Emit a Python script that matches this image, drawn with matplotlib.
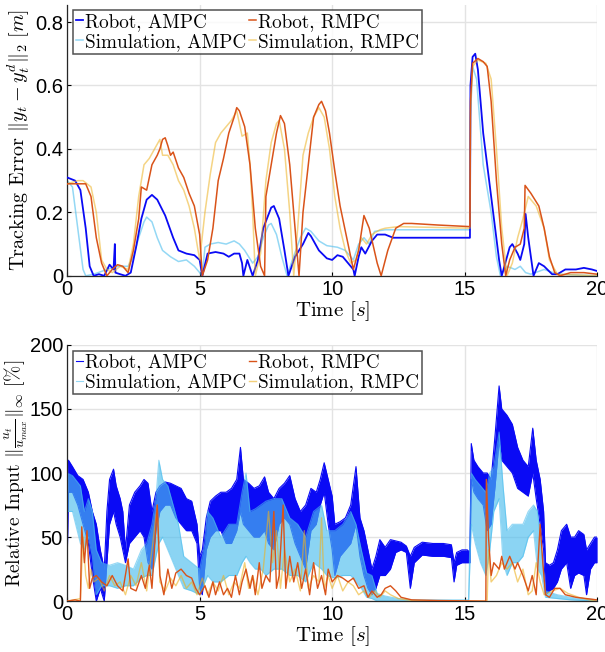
import numpy as np
import matplotlib
matplotlib.use("Agg")
from matplotlib import pyplot as plt

plt.rcParams["mathtext.fontset"] = "cm"
plt.rcParams["axes.unicode_minus"] = False

# ---- top panel: tracking error [m] ----
t_ra = [0, 0.3, 0.5, 0.7, 0.85, 1.0, 1.2, 1.4, 1.6, 1.75, 1.8, 1.82, 2.0, 2.2, 2.4, 2.6, 2.8, 3.0, 3.2,
        3.4, 3.7, 4.0, 4.2, 4.5, 4.8, 5.0, 5.1, 5.3, 5.6, 5.9, 6.1, 6.3, 6.5, 6.6, 6.65, 6.8, 7.0, 7.2,
        7.4, 7.7, 7.8, 8.0, 8.2, 8.35, 8.6, 8.9, 9.1, 9.2, 9.5, 9.8, 10.0, 10.2, 10.4, 10.6, 10.8, 10.85,
        11.0, 11.1, 11.25, 11.5, 11.7, 12.0, 12.3, 13.0, 15.2, 15.22, 15.3, 15.4, 15.5, 15.7, 16.0, 16.3,
        16.4, 16.7, 16.8, 17.0, 17.1, 17.25, 17.3, 17.4, 17.6, 17.8, 18.0, 18.3, 18.5, 18.8, 19.2, 19.5,
        19.8, 20]
e_ra = [0.31, 0.30, 0.27, 0.15, 0.03, 0.0, 0.005, 0.0, 0.035, 0.02, 0.1, 0.01, 0.005, 0.0, 0.01, 0.09,
        0.18, 0.24, 0.255, 0.24, 0.19, 0.12, 0.08, 0.07, 0.065, 0.05, 0.0, 0.07, 0.075, 0.07, 0.06, 0.07,
        0.07, 0.04, 0.0, 0.05, 0.0, 0.05, 0.15, 0.215, 0.22, 0.18, 0.08, 0.0, 0.06, 0.1, 0.135, 0.125,
        0.08, 0.055, 0.05, 0.065, 0.06, 0.04, 0.02, 0.0, 0.06, 0.09, 0.07, 0.11, 0.13, 0.13, 0.12, 0.12,
        0.12, 0.6, 0.69, 0.70, 0.65, 0.45, 0.25, 0.05, 0.0, 0.09, 0.1, 0.07, 0.05, 0.1, 0.195, 0.12, 0.0,
        0.04, 0.03, 0.005, 0.005, 0.02, 0.02, 0.025, 0.02, 0.015]

t_rr = [0, 0.5, 0.7, 0.9, 1.1, 1.3, 1.5, 1.7, 1.9, 2.1, 2.3, 2.5, 2.7, 2.8, 3.0, 3.2, 3.4, 3.5, 3.6, 3.7,
        3.8, 3.9, 4.0, 4.2, 4.4, 4.6, 4.8, 5.0, 5.1, 5.3, 5.5, 5.7, 5.9, 6.1, 6.3, 6.4, 6.5, 6.7, 6.9,
        7.1, 7.3, 7.45, 7.5, 7.7, 7.9, 8.05, 8.2, 8.4, 8.6, 8.75, 8.9, 9.1, 9.3, 9.5, 9.6, 9.75, 9.9,
        10.1, 10.3, 10.6, 10.8, 11.0, 11.2, 11.4, 11.7, 11.85, 12.1, 12.4, 12.7, 13.0, 14.0, 15.2, 15.22,
        15.3, 15.5, 15.7, 15.85, 16.0, 16.2, 16.4, 16.55, 16.7, 16.9, 17.1, 17.25, 17.28, 17.5, 17.8,
        18.0, 18.2, 18.4, 18.6, 19.0, 19.5, 20]
e_rr = [0.29, 0.29, 0.29, 0.25, 0.12, 0.04, 0.0, 0.02, 0.035, 0.03, 0.01, 0.08, 0.18, 0.28, 0.27, 0.35,
        0.38, 0.40, 0.43, 0.435, 0.41, 0.38, 0.39, 0.34, 0.31, 0.26, 0.22, 0.13, 0.0, 0.05, 0.15, 0.3,
        0.37, 0.45, 0.5, 0.53, 0.52, 0.47, 0.35, 0.15, 0.03, 0.0, 0.25, 0.35, 0.45, 0.505, 0.48, 0.35,
        0.15, 0.0, 0.2, 0.35, 0.5, 0.54, 0.55, 0.52, 0.45, 0.33, 0.22, 0.1, 0.02, 0.08, 0.19, 0.15, 0.04,
        0.0, 0.08, 0.15, 0.165, 0.165, 0.16, 0.155, 0.55, 0.67, 0.685, 0.675, 0.66, 0.55, 0.3, 0.1, 0.0,
        0.05, 0.09, 0.1, 0.15, 0.285, 0.26, 0.22, 0.15, 0.06, 0.01, 0.0, 0.01, 0.01, 0.005]

t_sa = [0, 0.2, 0.4, 0.6, 0.7, 1.0, 1.5, 1.9, 2.3, 2.5, 2.7, 2.9, 3.0, 3.2, 3.4, 3.6, 3.9, 4.2, 4.5, 4.8,
        5.0, 5.1, 5.2, 5.4, 5.7, 6.0, 6.3, 6.5, 6.7, 7.0, 7.2, 7.4, 7.6, 7.7, 7.9, 8.1, 8.3, 8.5, 8.8,
        9.0, 9.2, 9.5, 9.8, 10.2, 10.5, 10.8, 11.0, 11.2, 11.4, 11.6, 12.0, 15.2, 15.22, 15.3, 15.45,
        15.7, 16.0, 16.2, 16.35, 16.6, 16.9, 17.1, 17.3, 17.5, 18.0, 18.5, 20]
e_sa = [0.3, 0.28, 0.15, 0.02, 0.0, 0.005, 0.02, 0.03, 0.03, 0.06, 0.12, 0.17, 0.185, 0.17, 0.12, 0.08,
        0.06, 0.045, 0.05, 0.03, 0.01, 0.0, 0.09, 0.1, 0.105, 0.1, 0.11, 0.1, 0.08, 0.04, 0.06, 0.12,
        0.16, 0.165, 0.13, 0.06, 0.0, 0.05, 0.12, 0.15, 0.14, 0.11, 0.095, 0.09, 0.08, 0.05, 0.1, 0.12,
        0.1, 0.14, 0.145, 0.145, 0.5, 0.66, 0.62, 0.35, 0.2, 0.06, 0.0, 0.03, 0.02, 0.03, 0.01, 0.005,
        0.02, 0.005, 0.0]

t_sr = [0, 0.4, 0.6, 0.9, 1.1, 1.3, 1.5, 1.7, 2.0, 2.3, 2.5, 2.7, 2.9, 3.1, 3.3, 3.5, 3.6, 3.8, 4.0, 4.2,
        4.4, 4.6, 4.8, 5.0, 5.2, 5.4, 5.6, 5.8, 6.0, 6.2, 6.4, 6.6, 6.8, 6.9, 7.0, 7.1, 7.3, 7.5, 7.7,
        7.9, 8.0, 8.2, 8.4, 8.55, 8.7, 8.9, 9.1, 9.3, 9.5, 9.7, 9.9, 10.1, 10.3, 10.5, 10.7, 10.9, 11.1,
        11.3, 11.5, 11.8, 12.0, 12.5, 15.2, 15.22, 15.3, 15.5, 15.8, 16.0, 16.2, 16.4, 16.6, 16.8, 17.0,
        17.2, 17.4, 17.7, 18.0, 18.2, 18.5, 20]
e_sr = [0.29, 0.3, 0.3, 0.28, 0.2, 0.05, 0.02, 0.01, 0.03, 0.02, 0.1, 0.25, 0.35, 0.37, 0.40, 0.43, 0.38,
        0.38, 0.35, 0.3, 0.27, 0.22, 0.15, 0.05, 0.2, 0.32, 0.42, 0.45, 0.47, 0.49, 0.52, 0.44, 0.45,
        0.35, 0.2, 0.0, 0.07, 0.3, 0.42, 0.48, 0.49, 0.4, 0.2, 0.0, 0.15, 0.38, 0.45, 0.5, 0.53, 0.5, 0.4,
        0.25, 0.15, 0.08, 0.04, 0.05, 0.12, 0.1, 0.13, 0.145, 0.15, 0.155, 0.15, 0.52, 0.66, 0.68, 0.67,
        0.62, 0.4, 0.15, 0.0, 0.04, 0.12, 0.18, 0.25, 0.22, 0.15, 0.05, 0.005, 0.0]

# ---- bottom panel: relative input [%] ----
# AMPC curves are very noisy -> stored as upper / lower envelopes
t_ua = [0, 0.05, 0.2, 0.4, 0.6, 0.8, 0.95, 1.1, 1.25, 1.4, 1.5, 1.6, 1.75, 1.85, 2.0, 2.1, 2.2, 2.35,
        2.55, 2.75, 2.9, 3.05, 3.2, 3.35, 3.5, 3.7, 3.9, 4.1, 4.3, 4.5, 4.7, 4.9, 5.0, 5.1, 5.25, 5.4,
        5.6, 5.8, 6.0, 6.2, 6.4, 6.54, 6.65, 6.85, 7.05, 7.25, 7.45, 7.6, 7.8, 8.0, 8.2, 8.4, 8.6, 8.8,
        9.0, 9.2, 9.4, 9.55, 9.7, 9.85, 10.0, 10.1, 10.3, 10.5, 10.7, 10.9, 11.05, 11.2, 11.35, 11.5,
        11.65, 11.8, 12.0, 12.2, 12.4, 12.6, 12.8, 12.95, 13.1, 13.4, 13.8, 14.2, 14.5, 14.6, 14.7,
        14.9, 15.1, 15.2, 15.25, 15.35, 15.5, 15.7, 15.85, 16.0, 16.15, 16.3, 16.4, 16.6, 16.8, 17.0,
        17.2, 17.4, 17.57, 17.7, 17.85, 17.98, 18.05, 18.2, 18.35, 18.5, 18.65, 18.85, 19.0, 19.15,
        19.3, 19.5, 19.6, 19.75, 19.9, 20]
u_ra_hi = [35, 110, 105, 98, 95, 85, 70, 60, 40, 25, 70, 95, 103, 90, 80, 70, 40, 75, 85, 90, 95, 92,
           70, 85, 90, 93, 92, 90, 88, 80, 78, 60, 35, 40, 65, 78, 82, 85, 85, 88, 95, 120, 95, 92, 88,
           90, 97, 85, 80, 88, 92, 98, 80, 70, 75, 88, 85, 95, 108, 95, 82, 60, 62, 65, 75, 105, 65, 55,
           40, 25, 35, 48, 42, 48, 47, 46, 43, 35, 42, 46, 45, 45, 44, 30, 38, 40, 40, 38, 123, 110, 105,
           100, 100, 95, 130, 168, 150, 145, 138, 120, 110, 105, 135, 110, 95, 70, 30, 28, 30, 40, 55, 60,
           50, 50, 55, 52, 40, 45, 50, 50]
u_ra_lo = [30, 85, 85, 75, 60, 45, 20, 0, 10, 0, 30, 60, 70, 60, 50, 40, 30, 45, 50, 55, 50, 30, 25, 55,
           70, 75, 75, 65, 60, 55, 55, 45, 10, 5, 40, 50, 55, 55, 45, 45, 55, 70, 60, 55, 50, 50, 55, 45,
           40, 60, 65, 60, 45, 35, 25, 55, 60, 75, 85, 60, 40, 20, 35, 40, 45, 60, 35, 20, 10, 5, 10, 20,
           20, 25, 38, 40, 38, 10, 30, 36, 35, 35, 34, 15, 28, 30, 30, 30, 95, 85, 80, 75, 55, 60, 90,
           125, 110, 105, 100, 88, 85, 82, 100, 80, 60, 40, 5, 8, 10, 15, 25, 30, 10, 20, 22, 20, 5, 25,
           30, 30]

t_ua_sim = [0, 0.2, 0.5, 0.65, 0.8, 0.95, 1.1, 1.3, 1.6, 1.9, 2.2, 2.5, 2.8, 3.0, 3.2, 3.35, 3.46,
            3.6, 3.8, 4.0, 4.2, 4.4, 4.7, 5.0, 5.2, 5.3, 5.5, 5.8, 6.1, 6.4, 6.6, 6.75, 6.9, 7.1, 7.3,
            7.5, 7.8, 8.1, 8.4, 8.7, 9.0, 9.3, 9.6, 9.8, 10.1, 10.4, 10.7, 10.9, 11.1, 11.3, 11.5, 11.7,
            12.0, 12.5, 13.0, 15.15, 15.25, 15.4, 15.6, 15.8, 15.95, 16.1, 16.3, 16.45, 16.6, 16.8,
            17.0, 17.2, 17.4, 17.6, 17.75, 17.9, 18.05, 18.5, 19.0, 20]
u_sa_hi = [100, 98, 90, 70, 80, 70, 40, 30, 28, 30, 28, 25, 40, 45, 60, 80, 110, 95, 90, 75, 60, 35,
           30, 25, 45, 70, 65, 50, 60, 60, 85, 100, 70, 72, 75, 78, 80, 80, 65, 60, 50, 70, 75, 55, 55,
           60, 70, 60, 40, 22, 20, 6, 4, 2, 1, 1, 100, 95, 90, 85, 100, 105, 132, 90, 55, 60, 60, 60, 70,
           75, 70, 40, 8, 5, 3, 1]
u_sa_lo = [70, 70, 45, 40, 50, 35, 5, 12, 12, 10, 12, 12, 18, 20, 20, 35, 45, 50, 40, 30, 20, 10, 8, 5,
           15, 20, 15, 15, 20, 20, 30, 35, 30, 25, 25, 20, 25, 25, 20, 20, 15, 30, 25, 20, 18, 20, 20, 15,
           10, 3, 2, 0, 0, 0, 0, 0, 60, 45, 30, 20, 40, 70, 80, 30, 20, 30, 30, 35, 50, 55, 25, 20, 3, 2,
           1, 0]

t_ur = [0, 0.3, 0.5, 0.55, 0.65, 0.75, 0.85, 0.95, 1.1, 1.3, 1.5, 1.7, 1.9, 2.1, 2.3, 2.4, 2.6, 2.8,
        2.95, 3.1, 3.2, 3.4, 3.5, 3.65, 3.8, 3.95, 4.1, 4.3, 4.5, 4.7, 4.85, 5.0, 5.2, 5.35, 5.5, 5.6,
        5.75, 5.9, 6.05, 6.2, 6.35, 6.5, 6.6, 6.75, 6.9, 7.0, 7.1, 7.25, 7.35, 7.5, 7.65, 7.8, 7.9, 8.0,
        8.15, 8.25, 8.4, 8.55, 8.7, 8.85, 9.0, 9.15, 9.3, 9.45, 9.6, 9.75, 9.85, 10.0, 10.2, 10.4, 10.6,
        10.8, 11.0, 11.2, 11.35, 11.5, 11.7, 11.85, 12.0, 12.2, 12.4, 12.6, 13.0, 14.0, 15.8, 15.82,
        15.9, 16.0, 16.1, 16.3, 16.4, 16.5, 16.7, 16.9, 17.0, 17.2, 17.4, 17.55, 17.7, 17.85, 17.95,
        18.05, 18.2, 18.4, 18.6, 18.8, 19.2, 19.6, 20]
u_rr = [0, 1, 0, 58, 30, 55, 10, 18, 20, 15, 12, 20, 12, 8, 33, 10, 8, 20, 10, 28, 10, 75, 20, 5, 25,
        10, 22, 25, 20, 18, 10, 5, 12, 3, 15, 5, 15, 5, 10, 3, 20, 5, 15, 25, 10, 20, 5, 30, 10, 20, 15,
        70, 10, 20, 75, 10, 35, 15, 30, 10, 25, 5, 30, 10, 20, 5, 25, 15, 20, 18, 15, 18, 10, 12, 3, 8,
        3, 5, 10, 12, 8, 3, 1, 0.5, 0, 95, 50, 20, 30, 25, 35, 25, 35, 25, 30, 20, 8, 20, 5, 60, 30, 5,
        3, 10, 10, 5, 3, 2, 1]

t_usr = [0, 0.5, 0.6, 0.7, 0.8, 0.9, 1.0, 1.2, 1.4, 1.6, 1.8, 2.0, 2.2, 2.4, 2.6, 2.8, 3.0, 3.2, 3.4,
         3.5, 3.7, 3.9, 4.1, 4.3, 4.5, 4.7, 4.9, 5.1, 5.3, 5.5, 5.7, 5.9, 6.1, 6.3, 6.5, 6.7, 6.85,
         7.0, 7.2, 7.4, 7.6, 7.75, 7.9, 8.05, 8.2, 8.4, 8.6, 8.8, 8.95, 9.1, 9.3, 9.5, 9.6, 9.7, 9.85,
         10.0, 10.2, 10.4, 10.6, 10.8, 11.0, 11.2, 11.4, 11.6, 11.8, 12.0, 12.2, 12.5, 13.0, 15.85,
         15.9, 16.0, 16.2, 16.4, 16.6, 16.8, 17.0, 17.2, 17.4, 17.55, 17.7, 17.85, 18.0, 18.3, 18.6,
         18.9, 19.3, 19.7, 20]
u_sr = [0, 2, 50, 20, 10, 25, 15, 18, 8, 20, 12, 15, 5, 20, 12, 30, 8, 40, 75, 15, 8, 18, 12, 20, 10,
        15, 5, 18, 5, 15, 8, 20, 5, 15, 10, 30, 10, 20, 5, 25, 70, 30, 55, 10, 40, 15, 25, 8, 55, 10, 20,
        15, 65, 10, 20, 10, 20, 8, 15, 12, 5, 8, 3, 8, 3, 8, 5, 2, 0.5, 0, 40, 15, 20, 30, 25, 30, 15,
        25, 5, 8, 30, 15, 5, 8, 10, 6, 3, 1, 0]

# legend order (2 columns, filled column by column)
labels = ["Robot, AMPC", "Simulation, AMPC", "Robot, RMPC", "Simulation, RMPC"]
c_ra = "#0A0AF5"
c_rr = "#D95319"
c_sa = "#4DBEEE"
c_sr = "#EDB120"

serif = "cmr10"
tick_font = "Liberation Sans"


def style_axis(ax, yticks, ylim, ylabel, ylabsize, ylabpad):
    ax.set_xlim(0, 20)
    ax.set_ylim(*ylim)
    ax.set_xticks([0, 5, 10, 15, 20])
    ax.set_yticks(yticks)
    ax.grid(True, color="#e3e3e3", linewidth=1.0)
    ax.set_axisbelow(True)
    for side in ["top", "right"]:
        ax.spines[side].set_visible(False)
    for side in ["left", "bottom"]:
        ax.spines[side].set_color("#262626")
        ax.spines[side].set_linewidth(0.9)
    ax.tick_params(direction="in", length=3, width=0.8, labelsize=14.5, pad=3)
    for lab in ax.get_xticklabels() + ax.get_yticklabels():
        lab.set_fontfamily(tick_font)
    ax.set_xlabel(r"Time $[s]$", fontsize=15, fontfamily=serif, labelpad=0)
    ax.set_ylabel(ylabel, fontsize=ylabsize, fontfamily=serif, labelpad=ylabpad)


def add_legend(ax, handles):
    leg = ax.legend(handles, labels, ncol=2, loc="upper left", bbox_to_anchor=(0.0, 1.0),
                    prop={"family": serif, "size": 13.8}, frameon=True, fancybox=False,
                    handlelength=0.4, handletextpad=0.1, columnspacing=0.1,
                    borderaxespad=0.3, borderpad=0.15, labelspacing=0.1)
    leg.get_frame().set_edgecolor("#262626")
    leg.get_frame().set_linewidth(1.1)


fig = plt.figure(figsize=(6.05, 6.52), dpi=100)
ax1 = fig.add_axes([0.111, 0.577, 0.876, 0.416])
ax2 = fig.add_axes([0.111, 0.078, 0.876, 0.393])

# top
h1, = ax1.plot(t_ra, e_ra, color=c_ra, lw=1.3, zorder=3)
h3, = ax1.plot(t_sa, e_sa, color=c_sa, lw=1.1, alpha=0.6, zorder=2)
h2, = ax1.plot(t_rr, e_rr, color=c_rr, lw=1.1, zorder=5)
h4, = ax1.plot(t_sr, e_sr, color=c_sr, lw=1.1, alpha=0.55, zorder=4)
style_axis(ax1, [0, 0.2, 0.4, 0.6, 0.8], (0, 0.855),
           r"Tracking Error $\Vert y_t - y_t^d \Vert_2\ [m]$", 14.5, 2)
ax1.set_yticklabels(["0", "0.2", "0.4", "0.6", "0.8"], fontfamily=tick_font)
add_legend(ax1, [h1, h3, h2, h4])

# bottom
ax2.fill_between(t_ua, u_ra_lo, u_ra_hi, color=c_ra, lw=0, zorder=1)
g1, = ax2.plot(t_ua, u_ra_hi, color=c_ra, lw=0.8, zorder=1)
ax2.plot(t_ua, u_ra_lo, color=c_ra, lw=0.8, zorder=1)
ax2.fill_between(t_ua_sim, u_sa_lo, u_sa_hi, color=c_sa, alpha=0.65, lw=0, zorder=2)
g3, = ax2.plot(t_ua_sim, u_sa_hi, color=c_sa, lw=0.8, alpha=0.6, zorder=2)
ax2.plot(t_ua_sim, u_sa_lo, color=c_sa, lw=0.8, alpha=0.6, zorder=2)
g2, = ax2.plot(t_ur, u_rr, color=c_rr, lw=1.0, zorder=4)
g4, = ax2.plot(t_usr, u_sr, color=c_sr, lw=1.0, alpha=0.6, zorder=3)
style_axis(ax2, [0, 50, 100, 150, 200], (0, 200),
           r"Relative Input $\Vert \frac{u_t}{u_{max}} \Vert_\infty\ [\%]$", 14, 0)
add_legend(ax2, [g1, g3, g2, g4])

fig.savefig("out.png", dpi=100)
